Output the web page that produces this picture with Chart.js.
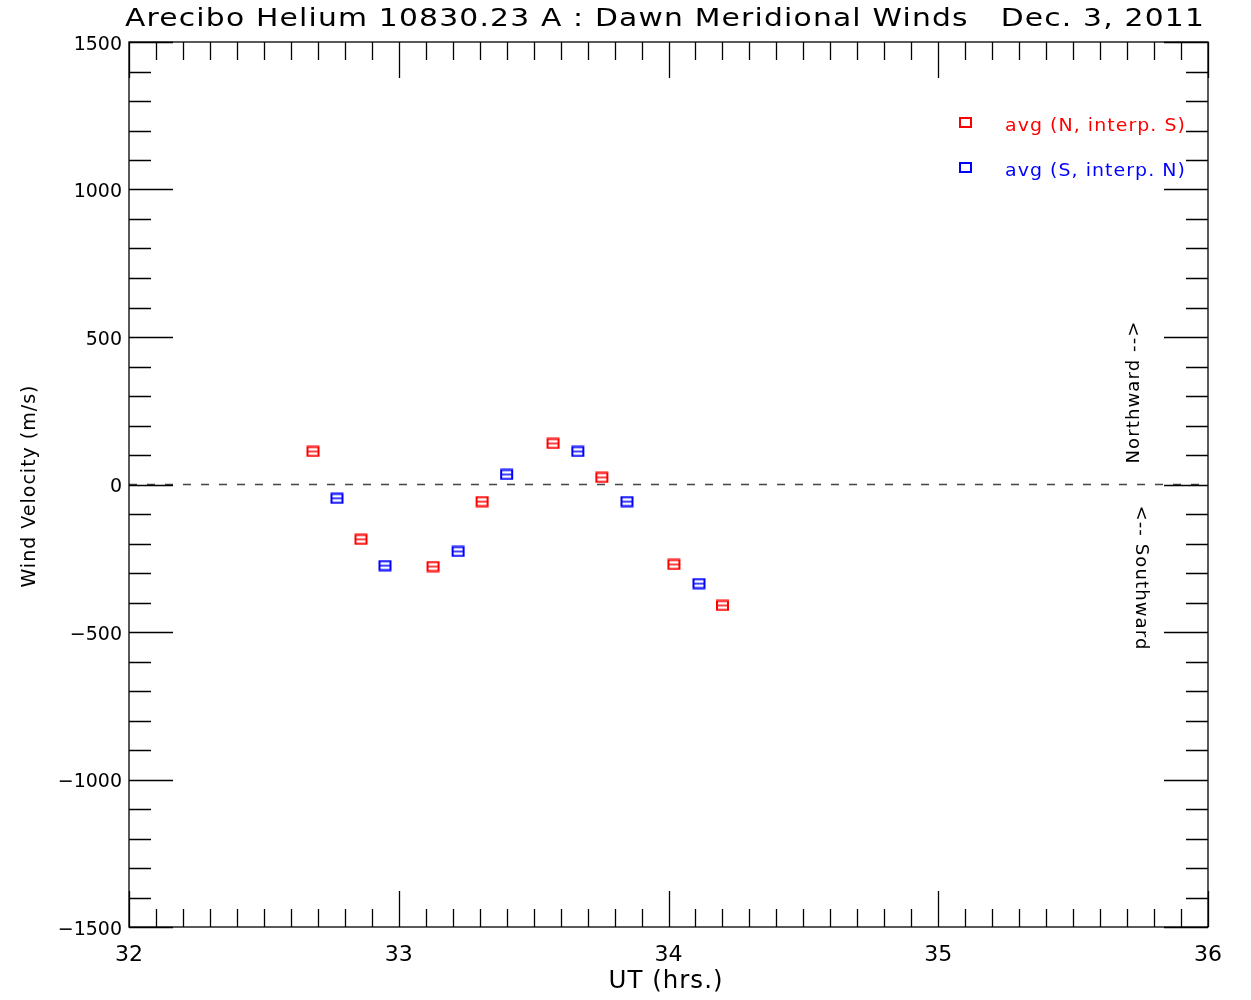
<!DOCTYPE html>
<html>
<head>
<meta charset="utf-8">
<title>Dawn Meridional Winds</title>
<script src="https://cdn.jsdelivr.net/npm/chart.js@4.4.1/dist/chart.umd.min.js"></script>
<style>
  html, body { margin: 0; padding: 0; background: #fff; }
  #wrap { width: 1251px; height: 1000px; position: relative; }
</style>
</head>
<body>
<div id="wrap"><canvas id="winds"></canvas></div>
<script>
// UT hours and meridional wind (m/s) for each averaged estimate
const hoursN = [32.682, 32.860, 33.127, 33.309, 33.572, 33.753, 34.020, 34.200];
const windN  = [112, -186, -278, -58, 139, 24, -271, -410];
const hoursS = [32.771, 32.949, 33.220, 33.400, 33.664, 33.846, 34.113];
const windS  = [-47, -275, -227, 34, 112, -58, -336];

const seriesLabels = ['avg (N, interp. S)', 'avg (S, interp. N)'];
const seriesColors = ['#ff0000', '#0000ff'];
const titleText = 'Arecibo Helium 10830.23 A : Dawn Meridional Winds   Dec. 3, 2011';
const xTitle = 'UT (hrs.)';
const yTitle = 'Wind Velocity (m/s)';
const FONT = '"DejaVu Sans", sans-serif';

// small box marker with a bar through the middle
function makeMarker(color, bar) {
  const c = document.createElement('canvas');
  c.width = 15; c.height = 12;
  const g = c.getContext('2d');
  g.strokeStyle = color;
  g.lineWidth = 2;
  g.strokeRect(2, 1.5, 11, 9);
  if (bar) {
    g.beginPath();
    g.moveTo(2, 6); g.lineTo(14, 6);
    g.lineWidth = 1.5;
    g.stroke();
  }
  return c;
}

function toPoints(xs, ys) {
  return xs.map((x, i) => ({ x: x, y: ys[i] }));
}

// wide plotter-style lettering: text stretched to a given width around (cx, cy)
function wideText(ctx, text, cx, cy, size, width, angle, color) {
  ctx.save();
  ctx.font = size + 'px ' + FONT;
  ctx.letterSpacing = '1px';
  ctx.fillStyle = color || '#000';
  ctx.textAlign = 'center';
  ctx.textBaseline = 'middle';
  const w = ctx.measureText(text).width;
  ctx.translate(cx, cy);
  if (angle) ctx.rotate(angle);
  ctx.scale(width / w, 1);
  ctx.fillText(text, 0, 0);
  ctx.restore();
}

const frameTicks = {
  id: 'frameTicks',
  beforeDatasetsDraw(chart) {
    const { ctx, chartArea: a, scales: { y } } = chart;
    const y0 = y.getPixelForValue(0);
    ctx.save();
    ctx.strokeStyle = '#444';
    ctx.lineWidth = 1.5;
    ctx.setLineDash([8, 10]);
    ctx.beginPath();
    ctx.moveTo(a.left, y0); ctx.lineTo(a.right, y0);
    ctx.stroke();
    ctx.restore();
  },
  afterDatasetsDraw(chart) {
    const { ctx, chartArea: a, scales: { x, y } } = chart;
    ctx.save();
    ctx.strokeStyle = '#000';
    ctx.lineWidth = 1.3;
    ctx.strokeRect(a.left, a.top, a.right - a.left, a.bottom - a.top);

    ctx.beginPath();
    // x ticks every 0.1 h, longer on whole hours
    for (let i = 0; i <= 40; i++) {
      const px = Math.round(x.getPixelForValue(32 + i / 10)) + 0.5;
      const len = i % 10 === 0 ? 36 : 18;
      ctx.moveTo(px, a.bottom); ctx.lineTo(px, a.bottom - len);
      ctx.moveTo(px, a.top); ctx.lineTo(px, a.top + len);
    }
    // y ticks every 100 m/s, longer every 500
    for (let v = -1500; v <= 1500; v += 100) {
      const py = Math.round(y.getPixelForValue(v)) + 0.5;
      const len = v % 500 === 0 ? 44 : 22;
      ctx.moveTo(a.left, py); ctx.lineTo(a.left + len, py);
      ctx.moveTo(a.right, py); ctx.lineTo(a.right - len, py);
    }
    ctx.stroke();
    ctx.restore();

    // titles
    wideText(ctx, titleText, 665, 19, 25, 1080, 0);
    wideText(ctx, xTitle, 666, 982, 24, 115, 0);
    wideText(ctx, yTitle, 30, 486, 19, 203, -Math.PI / 2);

    // legend
    seriesLabels.forEach((lab, i) => {
      const ly = 123 + i * 45;
      ctx.save();
      ctx.strokeStyle = seriesColors[i];
      ctx.lineWidth = 2;
      ctx.strokeRect(960, ly - 5, 11, 9);
      ctx.restore();
      wideText(ctx, lab, 1005 + 181 / 2, ly + 3, 18, 181, 0, seriesColors[i]);
    });

    // direction labels on the right
    wideText(ctx, 'Northward -->', 1135, 392, 17, 143, -Math.PI / 2);
    wideText(ctx, '<-- Southward', 1140, 578, 17, 145, Math.PI / 2);
  }
};

new Chart(document.getElementById('winds'), {
  type: 'scatter',
  data: {
    datasets: [
      {
        label: seriesLabels[0],
        data: toPoints(hoursN, windN),
        pointStyle: makeMarker(seriesColors[0], true),
        borderColor: seriesColors[0],
        backgroundColor: seriesColors[0]
      },
      {
        label: seriesLabels[1],
        data: toPoints(hoursS, windS),
        pointStyle: makeMarker(seriesColors[1], true),
        borderColor: seriesColors[1],
        backgroundColor: seriesColors[1]
      }
    ]
  },
  options: {
    responsive: true,
    maintainAspectRatio: false,
    animation: false,
    devicePixelRatio: 1,
    layout: { padding: { top: 42, right: 43, left: 0, bottom: 0 } },
    plugins: { legend: { display: false }, tooltip: { enabled: false } },
    scales: {
      x: {
        type: 'linear',
        min: 32, max: 36,
        grid: { display: false, drawTicks: false },
        border: { display: false },
        ticks: { stepSize: 1, padding: 15, color: '#000', font: { family: FONT, size: 22 } },
        afterFit(s) { s.height = 73; }
      },
      y: {
        min: -1500, max: 1500,
        grid: { display: false, drawTicks: false },
        border: { display: false },
        ticks: {
          stepSize: 500, padding: 7, labelOffset: 3, color: '#000', font: { family: FONT, size: 19 },
          callback: v => v < 0 ? '\u2212' + Math.abs(v) : String(v)
        },
        afterFit(s) { s.width = 129; }
      }
    }
  },
  plugins: [frameTicks]
});
</script>
</body>
</html>
